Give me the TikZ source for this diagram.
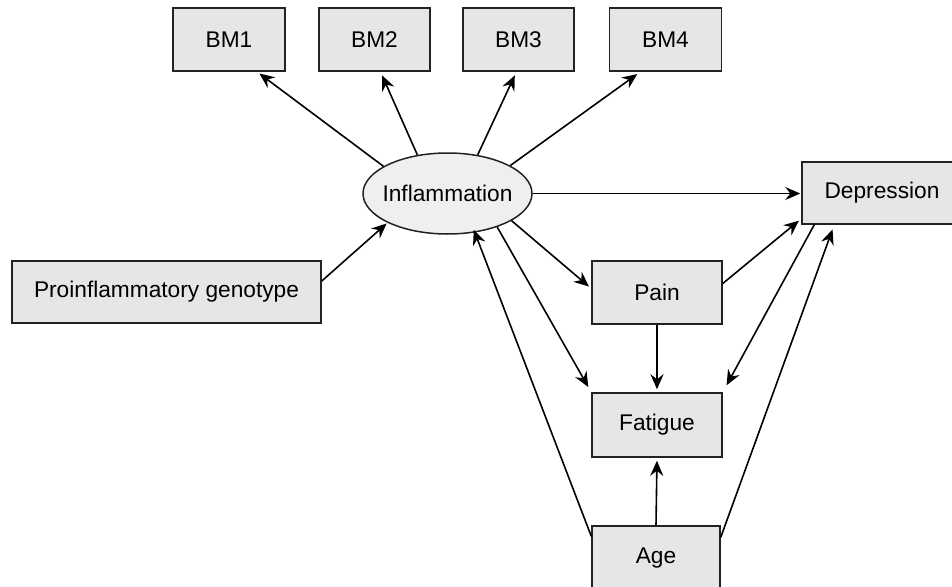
\documentclass[tikz,border=0pt]{standalone}
\usepackage{fontspec}
\setmainfont{Liberation Sans}
\usetikzlibrary{arrows.meta,calc,shapes.geometric}
\definecolor{boxfill}{HTML}{E6E6E6}
\definecolor{ellfill}{HTML}{EFEFEF}
\definecolor{edgecol}{HTML}{222222}
\begin{document}
\begin{tikzpicture}[x=1pt,y=-1pt,
  box/.style={draw=edgecol,line width=1.5pt,fill=boxfill,inner sep=0pt,
    font=\fontsize{22.7}{26}\selectfont},
  ell/.style={ellipse,draw=edgecol,line width=1.5pt,fill=ellfill,inner xsep=-16pt,inner ysep=0pt,
    minimum width=169pt,minimum height=81pt,font=\fontsize{22.7}{26}\selectfont},
  arr/.style={-{Stealth[length=15pt,width=13pt,inset=5pt]},line width=1.6pt,black}]
\useasboundingbox (0,0) rectangle (952,586);
\clip (0,0) rectangle (952,586);
\fill[white] (0,0) rectangle (952,586);
% nodes
\node[box,minimum width=112pt,minimum height=63pt] (bm1) at (229,39.5) {BM1};
\node[box,minimum width=111pt,minimum height=63pt] (bm2) at (374.5,39.5) {BM2};
\node[box,minimum width=111pt,minimum height=63pt] (bm3) at (518.5,39.5) {BM3};
\node[box,minimum width=112pt,minimum height=63pt] (bm4) at (665.5,39.5) {BM4};
\node[ell] (infl) at (447.5,193.5) {Inflammation};
\node[box,minimum width=160pt,minimum height=62pt] (dep) at (882,193) {Depression};
\node[box,minimum width=130pt,minimum height=63pt] (pain) at (657,292.5) {Pain};
\node[box,minimum width=130pt,minimum height=64pt] (fat) at (657,425) {Fatigue};
\node[box,minimum width=128pt,minimum height=64pt] (age) at (656,558) {Age};
\node[box,minimum width=309pt,minimum height=62pt] (geno) at (166.5,292) {Proinflammatory genotype};
% edges
\draw[arr,shorten >=3pt] (infl.157.7) -- ($(bm1.south)+(28,0)$);
\draw[arr,shorten >=4pt] (infl.128.4) -- ($(bm2.south)+(6,0)$);
\draw[arr,shorten >=4pt] (infl.52.5) -- ($(bm3.south)+(-2,0)$);
\draw[arr,shorten >=4pt] (infl.24.2) -- ($(bm4.south)+(-25,0)$);
\draw[arr,shorten >=1pt] (infl.east) -- (dep.west |- infl.east);
\draw[arr,shorten >=1pt] ($(geno.east)+(0,-11)$) -- (infl.206.4);
\draw[arr,shorten >=3pt] (infl.337.2) -- ($(pain.west)+(0,-4)$);
\draw[arr,shorten >=6pt] (infl.326.7) -- (fat.north west);
\draw[arr,shorten >=-3pt] ($(age.north west)+(0,11)$) -- (infl.305);
\draw[arr,shorten >=3pt] (pain.south) -- (fat.north);
\draw[arr,shorten >=3pt] ($(pain.east)+(0,-9)$) -- ($(dep.south west)+(0,-6)$);
\draw[arr,shorten >=8pt] ($(dep.south west)+(13,0)$) -- (fat.north east);
\draw[arr,shorten >=5pt] ($(age.north east)+(0,12)$) -- ($(dep.south west)+(33,0)$);
\draw[arr,shorten >=3pt] (age.north) -- (fat.south);
\end{tikzpicture}
\end{document}
